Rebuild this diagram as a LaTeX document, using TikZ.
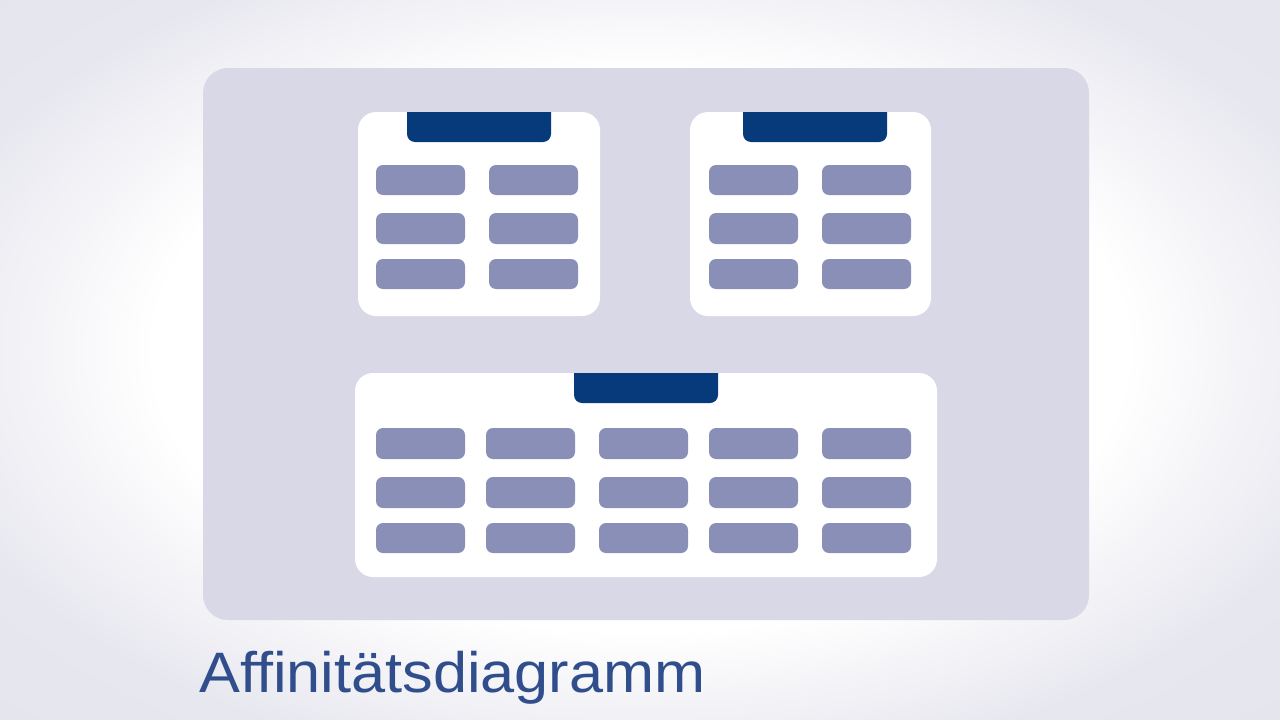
\documentclass[tikz,border=0pt]{standalone}
\usepackage{fontspec}
\setmainfont{Liberation Sans}
\definecolor{bgedge}{HTML}{E7E7EF}
\definecolor{bgcorner}{HTML}{E3E3EB}
\definecolor{panelc}{HTML}{D8D8E7}
\definecolor{barc}{HTML}{8A8FB8}
\definecolor{tabc}{HTML}{063A7A}
\definecolor{titlec}{HTML}{314E8C}
\pgfdeclareradialshading{bgglow}{\pgfpoint{0bp}{0bp}}{color(0bp)=(white); color(19bp)=(white); color(29bp)=(bgedge); color(43bp)=(bgcorner); color(50bp)=(bgcorner)}
\tikzset{
  panel/.style={fill=panelc, rounded corners=25pt},
  card/.style={fill=white, rounded corners=18pt},
  bar/.style={fill=barc, rounded corners=7pt},
  tabshape/.style={fill=tabc, rounded corners=8pt},
  title/.style={text=titlec, font=\fontsize{57}{60}\selectfont, inner sep=0pt, anchor=base west, xscale=1.075}
}
\begin{document}
\begin{tikzpicture}[x=1pt,y=-1pt]
\useasboundingbox (0,0) rectangle (1280,720);
\begin{scope}
  \clip (0,0) rectangle (1280,720);
  \shade[shading=bgglow] (0,-20) rectangle (1280,720);
\end{scope}
% panel
\fill[panel] (203,68) rectangle (1089,620);
% card 1
\fill[card] (358,112) rectangle (600,316);
\begin{scope}
  \clip (0,112) rectangle (1280,720);
  \fill[tabshape] (407,95) rectangle (551,142);
\end{scope}
\foreach \x in {376,489}
  \foreach \y/\h in {165/30,213/31,259/30}
    \fill[bar] (\x,\y) rectangle ++(89,\h);
% card 2
\fill[card] (690,112) rectangle (931,316);
\begin{scope}
  \clip (0,112) rectangle (1280,720);
  \fill[tabshape] (743,95) rectangle (887,142);
\end{scope}
\foreach \x in {709,822}
  \foreach \y/\h in {165/30,213/31,259/30}
    \fill[bar] (\x,\y) rectangle ++(89,\h);
% card 3
\fill[card] (355,373) rectangle (937,577);
\begin{scope}
  \clip (0,373) rectangle (1280,720);
  \fill[tabshape] (574,355) rectangle (718,403);
\end{scope}
\foreach \x in {376,486,599,709,822}
  \foreach \y/\h in {428/31,477/31,523/30}
    \fill[bar] (\x,\y) rectangle ++(89,\h);
% title
\node[title] (t) at (199,692) {Affinitätsdiagramm};
\end{tikzpicture}
\end{document}
